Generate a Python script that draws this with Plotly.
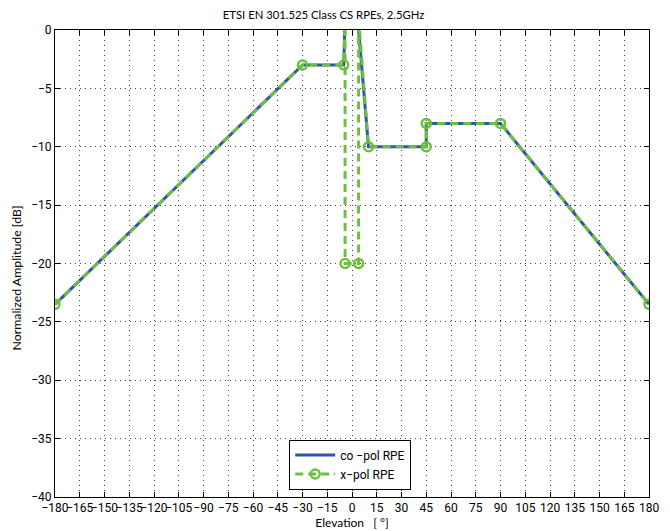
import plotly.graph_objects as go

# Co-polar RPE (elevation deg, normalized amplitude dB)
co_elev = [-180, -30, -5, -4.2, 3.4, 10, 45, 45, 90, 180]
co_amp = [-23.5, -3, -3, 1, 1, -10, -10, -8, -8, -23.5]

# Cross-polar RPE
x_elev = [-180, -30, -5, -4.2, -4.2, 4, 4, 10, 45, 45, 90, 180]
x_amp = [-23.5, -3, -3, 1, -20, -20, 1, -10, -10, -8, -8, -23.5]

x_ticks = list(range(-180, 181, 15))
y_ticks = list(range(-40, 1, 5))

NARROW = "Liberation Sans Narrow, Roboto"
TXT = "Lato, Open Sans"

fig = go.Figure()
fig.add_trace(go.Scatter(
    x=co_elev, y=co_amp, mode="lines", name="co \u2212pol RPE",
    line=dict(color="#3355a8", width=3),
))
fig.add_trace(go.Scatter(
    x=x_elev, y=x_amp, mode="lines+markers", name="x\u2212pol RPE",
    line=dict(color="#6dbf40", width=3, dash="8px,5px"),
    marker=dict(symbol="circle-open", size=9, color="#6dbf40", line=dict(width=2.5, color="#6dbf40")),
))

axis_common = dict(
    showline=True, linecolor="black", linewidth=1, mirror="ticks",
    ticks="inside", ticklen=5, tickcolor="black",
    showgrid=True, gridcolor="#444", gridwidth=1, griddash="1px,4px",
    zeroline=False, automargin=False,
    tickfont=dict(family=NARROW, size=12, color="black"),
)

fig.update_layout(
    width=670, height=531,
    paper_bgcolor="white", plot_bgcolor="white",
    margin=dict(l=55, r=21, t=30, b=34),
    title=dict(text="ETSI EN 301.525 Class CS RPEs, 2.5GHz", x=0.483, xanchor="center",
               y=0.972, yanchor="middle",
               font=dict(family=TXT, size=11.3, color="black")),
    xaxis=dict(range=[-180, 180], tickvals=x_ticks, tickangle=0,
               ticktext=[str(v).replace("-", "\u2212") for v in x_ticks],
               title=dict(text="Elevation   [ \u00b0]", font=dict(family=TXT, size=12, color="black"), standoff=2),
               **axis_common),
    yaxis=dict(range=[-40, 0], tickvals=y_ticks,
               ticktext=[str(v).replace("-", "\u2212") for v in y_ticks],
               **axis_common),
    annotations=[dict(text="Normalized Amplitude [dB]", xref="paper", yref="paper",
                      x=-0.0645, y=0.4695, xanchor="center", yanchor="middle",
                      textangle=-90, showarrow=False,
                      font=dict(family=TXT, size=12.3, color="black"))],
    legend=dict(x=0.497, y=0.016, xanchor="center", yanchor="bottom",
                bgcolor="white", bordercolor="black", borderwidth=1,
                font=dict(family=NARROW, size=12, color="black"),
                tracegroupgap=0, itemwidth=40),
    showlegend=True,
)

fig.write_html("out.html", config={"displayModeBar": False},
               post_script="document.body.style.margin='0px';")
